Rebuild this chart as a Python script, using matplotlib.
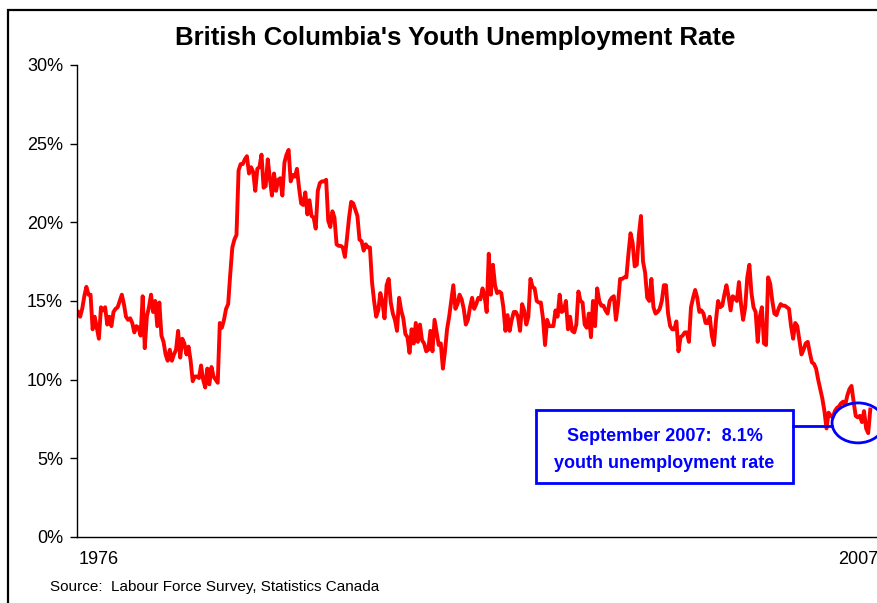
import matplotlib.pyplot as plt
from matplotlib.patches import Ellipse, Rectangle
from matplotlib.ticker import FuncFormatter


plt.rcParams["font.family"] = ["Liberation Sans", "DejaVu Sans"]

# BC youth unemployment rate (%), monthly, Jan 1976 - Sep 2007
RATE_1976_1979 = [
    14.3, 14.0, 14.5, 15.3, 15.9, 15.4, 15.4, 13.2, 14.0, 13.3, 12.6, 14.6,
    14.4, 14.6, 13.5, 14.0, 13.4, 14.3, 14.5, 14.6, 15.0, 15.4, 14.8, 14.0,
    13.8, 13.9, 13.6, 13.0, 13.4, 13.3, 12.8, 15.3, 12.0, 14.0, 14.6, 15.4,
    14.3, 15.0, 13.4, 14.9, 12.8, 12.4, 11.6, 11.2, 11.9, 11.2, 11.6, 11.9,
]
RATE_1980_1989 = [
    13.1, 11.4, 12.6, 12.3, 11.6, 12.1, 11.2, 9.9, 10.2, 10.2, 10.1, 10.9,
    10.0, 9.5, 10.7, 9.7, 10.8, 10.2, 10.0, 9.8, 13.6, 13.3, 13.8, 14.5,
    14.8, 16.7, 18.4, 18.9, 19.2, 23.3, 23.7, 23.7, 24.0, 24.2, 23.1, 23.5,
    23.2, 22.0, 23.4, 23.5, 24.3, 22.2, 22.3, 24.0, 22.8, 21.7, 23.1, 22.0,
    22.7, 22.8, 21.7, 23.8, 24.3, 24.6, 22.6, 23.0, 22.9, 23.4, 22.2, 21.2,
    21.1, 21.9, 20.5, 21.4, 20.4, 20.3, 19.6, 22.0, 22.5, 22.6, 22.6, 22.7,
    20.1, 19.7, 20.7, 20.3, 18.6, 18.5, 18.5, 18.4, 17.8, 19.0, 20.3, 21.3,
    21.2, 20.8, 20.4, 18.9, 18.8, 18.2, 18.6, 18.4, 18.4, 16.2, 15.0, 14.0,
    14.4, 15.5, 14.9, 13.9, 16.0, 16.4, 14.9, 14.2, 13.8, 13.1, 15.2, 14.4,
    13.9, 12.9, 12.7, 11.7, 13.2, 12.3, 13.6, 12.4, 13.5, 12.5, 12.3, 11.8,
]
RATE_1990_1999 = [
    11.9, 13.1, 11.8, 13.8, 13.0, 12.2, 12.3, 10.7, 11.8, 13.2, 14.0, 15.0,
    16.0, 14.5, 14.8, 15.4, 15.1, 14.5, 13.5, 13.8, 14.6, 15.2, 14.5, 14.8,
    15.2, 15.1, 15.8, 15.3, 14.3, 18.0, 15.4, 17.3, 16.0, 15.5, 15.6, 15.5,
    14.6, 13.1, 14.1, 13.1, 13.8, 14.3, 14.3, 14.0, 13.1, 14.8, 14.4, 13.5,
    14.0, 16.4, 15.9, 15.8, 15.0, 14.9, 14.9, 13.9, 12.2, 13.8, 13.4, 13.4,
    13.4, 14.4, 14.0, 15.4, 14.3, 14.4, 15.0, 13.2, 14.0, 13.1, 13.0, 13.5,
    15.6, 15.0, 14.9, 13.5, 13.3, 14.2, 12.7, 15.0, 13.4, 15.8, 15.0, 14.7,
    14.7, 14.4, 14.2, 15.0, 15.2, 15.3, 13.8, 14.8, 16.4, 16.4, 16.5, 16.5,
    18.0, 19.3, 18.7, 17.2, 17.3, 19.2, 20.4, 17.5, 16.8, 15.2, 15.0, 16.4,
    14.6, 14.2, 14.3, 14.5, 15.0, 16.0, 16.0, 14.2, 13.4, 13.2, 13.2, 13.7,
]
RATE_2000_2007 = [
    11.8, 12.7, 12.8, 13.0, 13.0, 12.4, 14.6, 15.2, 15.7, 15.2, 14.3, 14.4,
    14.2, 13.6, 13.6, 14.0, 12.8, 12.2, 13.8, 15.0, 14.6, 14.7, 15.4, 16.0,
    15.3, 14.4, 15.3, 15.2, 15.0, 16.2, 14.8, 13.8, 14.6, 16.5, 17.3, 15.5,
    14.6, 14.3, 12.4, 14.0, 14.6, 12.3, 12.2, 16.5, 16.1, 15.0, 14.2, 14.1,
    14.5, 14.8, 14.7, 14.7, 14.6, 14.5, 13.4, 12.6, 13.6, 13.4, 12.5, 11.6,
    11.9, 12.3, 12.4, 11.7, 11.1, 11.0, 10.7, 10.0, 9.4, 8.8, 8.0, 6.9,
    7.9, 7.7, 7.6, 8.0, 8.2, 8.3, 8.5, 8.6, 8.4, 9.0, 9.4, 9.6,
    8.6, 7.7, 7.6, 7.7, 7.3, 8.0, 6.9, 6.6, 8.1,
]

YEAR_LABELS = ["1976", "2007"]
Y_TICKS = [0, 5, 10, 15, 20, 25, 30]

BLUE = "#0000FF"
RED = "#FF0000"


def main() -> None:
    rate = RATE_1976_1979 + RATE_1980_1989 + RATE_1990_1999 + RATE_2000_2007
    months = list(range(len(rate)))

    fig = plt.figure(figsize=(8.78, 6.03), dpi=100)
    ax = fig.add_axes([0.0877, 0.1095, 0.9123, 0.7828])

    ax.plot(months, rate, color=RED, lw=2.8, solid_joinstyle="round")

    ax.set_xlim(-0.5, 383.7)
    ax.set_ylim(0, 30)
    ax.set_yticks(Y_TICKS)
    ax.yaxis.set_major_formatter(FuncFormatter(lambda v, _: f"{v:.0f}%"))
    ax.set_xticks([10, 374])
    ax.set_xticklabels(YEAR_LABELS)
    ax.tick_params(axis="x", length=0, pad=10, labelsize=13)
    ax.tick_params(axis="y", length=5, width=1, pad=5, labelsize=13)

    for side in ["top", "right"]:
        ax.spines[side].set_visible(False)
    for side in ["left", "bottom"]:
        ax.spines[side].set_linewidth(1.0)

    fig.text(0.519, 0.937, "British Columbia's Youth Unemployment Rate",
             ha="center", va="center", fontsize=18.5, fontweight="bold")
    fig.text(0.057, 0.027, "Source:  Labour Force Survey, Statistics Canada",
             ha="left", va="center", fontsize=11)

    # callout for the latest month
    last = len(rate) - 1
    box_x0, box_x1 = 219.7, 342.9
    box_y0, box_y1 = 3.43, 8.07
    ax.add_patch(Rectangle((box_x0, box_y0), box_x1 - box_x0, box_y1 - box_y0,
                           fill=True, facecolor="white", edgecolor=BLUE, lw=2, zorder=3))
    cx = (box_x0 + box_x1) / 2
    ax.text(cx, 6.36, f"September 2007:  {rate[last]:.1f}%", ha="center", va="center",
            color=BLUE, fontsize=13, fontweight="bold", zorder=4)
    ax.text(cx, 4.70, "youth unemployment rate", ha="center", va="center",
            color=BLUE, fontsize=13, fontweight="bold", zorder=4)

    ell_x, ell_y, ell_w, ell_h = 374.1, 7.25, 24.9, 2.54
    ax.plot([box_x1, ell_x - ell_w / 2], [7.06, 7.06], color=BLUE, lw=2, zorder=3)
    ax.add_patch(Ellipse((ell_x, ell_y), ell_w, ell_h, fill=False,
                         edgecolor=BLUE, lw=2, zorder=3, clip_on=False))

    # outer frame, only the left and top edges fall inside the canvas
    fig.patches.append(Rectangle((8 / 878, -0.1), 1.5, (603 - 10) / 603 + 0.1,
                                 transform=fig.transFigure, fill=False,
                                 edgecolor="black", lw=1.6))

    fig.savefig("out.png", dpi=100)
    plt.close(fig)


if __name__ == "__main__":
    main()
